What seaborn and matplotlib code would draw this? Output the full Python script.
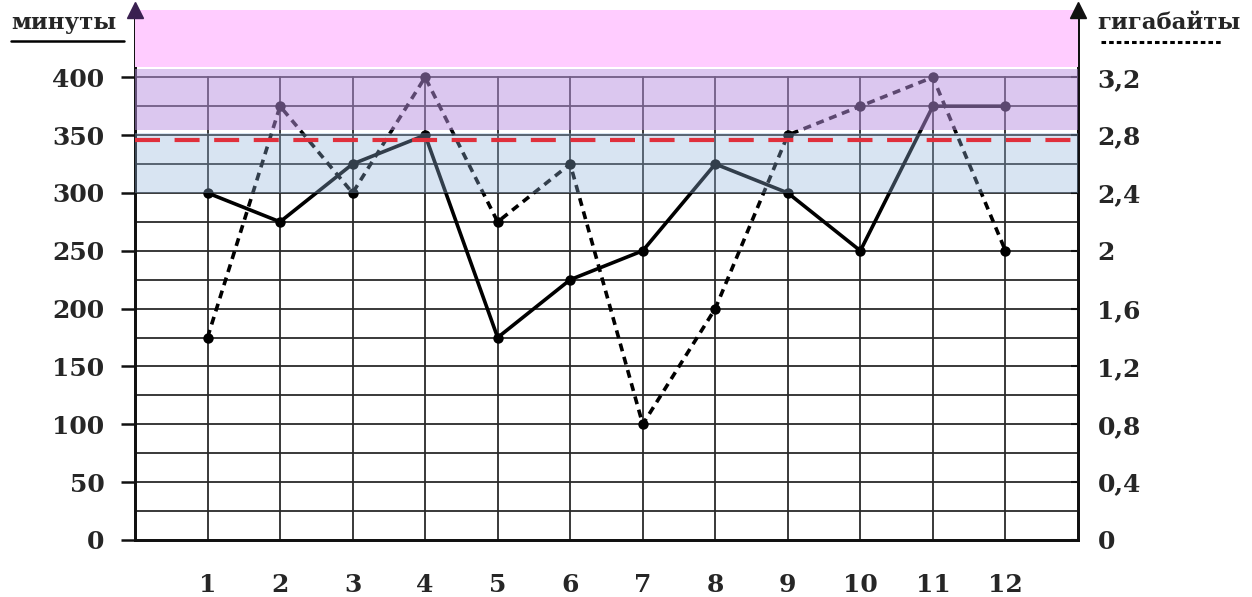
import matplotlib
matplotlib.use("Agg")
import matplotlib.pyplot as plt
import seaborn as sns
import numpy as np
from matplotlib.lines import Line2D

months = list(range(1, 13))
minutes = [300, 275, 325, 350, 175, 225, 250, 325, 300, 250, 375, 375]
gigabytes = [1.4, 3.0, 2.4, 3.2, 2.2, 2.6, 0.8, 1.6, 2.8, 3.0, 3.2, 2.0]
min_ticks = [0, 50, 100, 150, 200, 250, 300, 350, 400]
gb_ticks = [0, 0.4, 0.8, 1.2, 1.6, 2.0, 2.4, 2.8, 3.2]
gb_labels = ["0", "0,4", "0,8", "1,2", "1,6", "2", "2,4", "2,8", "3,2"]
limit_line = 346

sns.set_theme(style="white")
plt.rcParams['font.family'] = ['DejaVu Serif', 'DejaVu Sans']

YTOP = 458
XMAX = 13
K = 0.008
fig = plt.figure(figsize=(12.52, 5.97), dpi=100)
ax = fig.add_axes([0.1078, 0.0955, 0.861 - 0.1078, 0.983 - 0.0955])
ax.set_xlim(0, XMAX)
ax.set_ylim(0, YTOP)
ax2 = ax.twinx()
ax2.set_ylim(0, YTOP * K)

# grid
for yv in range(25, 401, 25):
    ax.plot([0, XMAX], [yv, yv], color="#2a2a2a", lw=1.3, zorder=1)
for xv in months:
    ax.plot([xv, xv], [0, 400], color="#2a2a2a", lw=1.3, zorder=1)

# data lines
sns.lineplot(x=months, y=minutes, ax=ax, color="black", lw=2.6, marker="o",
             markersize=7.5, markeredgewidth=0, zorder=3)
sns.lineplot(x=months, y=gigabytes, ax=ax2, color="black", lw=2.6, marker="o",
             markersize=7.5, markeredgewidth=0, linestyle=(0, (2.2, 1.6)), zorder=3)

# bands (overlay, drawn once on the top axes)
ax2.set_zorder(ax.get_zorder() + 1)
ax2.patch.set_visible(False)
ax2.axhspan(300 * K, 352 * K, color=(144/255, 178/255, 218/255), alpha=0.35, lw=0, zorder=5)
ax2.axhspan(354 * K, 407 * K, color=(185/255, 145/255, 225/255), alpha=0.5, lw=0, zorder=5)
ax2.axhspan(409 * K, YTOP * K, color=(255/255, 204/255, 255/255), alpha=1, lw=0, zorder=5)
ax2.axhline(limit_line * K, color="#E0303C", lw=3, linestyle=(0, (6, 3.5)), zorder=6)

# spines
for a in (ax, ax2):
    a.spines['top'].set_visible(False)
    for s in ('left', 'right', 'bottom'):
        a.spines[s].set_color("#111111")
        a.spines[s].set_linewidth(2)
ax2.plot([0], [1.0], marker="^", color="#3a2050", markersize=11, transform=ax2.transAxes,
         clip_on=False, zorder=10)
ax2.plot([1], [1.0], marker="^", color="#111111", markersize=11, transform=ax2.transAxes,
         clip_on=False, zorder=10)

ax.set_xticks(months)
ax.set_xticklabels([str(m) for m in months])
ax.set_yticks(min_ticks)
ax.set_yticklabels([str(v) for v in min_ticks])
ax2.set_yticks(gb_ticks)
ax2.set_yticklabels(gb_labels)
ax.tick_params(axis='x', direction='out', length=10, width=1.8, color="#111111",
               labelsize=18, pad=14)
ax.tick_params(axis='y', direction='out', length=10, width=1.8, color="#111111",
               labelsize=18, pad=12)
ax2.tick_params(axis='y', direction='in', length=5, width=1.5, color="#111111",
                labelsize=18, pad=14)
for lbl in ax.get_xticklabels() + ax.get_yticklabels() + ax2.get_yticklabels():
    lbl.set_fontweight('bold')
ax.set_xlabel("")
ax.set_ylabel("")
ax2.set_ylabel("")

# axis titles
fig.text(0.009, 0.962, "минуты", fontsize=16.5, fontweight='bold', ha='left', va='center')
fig.add_artist(Line2D([0.009, 0.099], [0.932, 0.932], color="black", lw=1.8))
fig.text(0.876, 0.962, "гигабайты", fontsize=16.5, fontweight='bold', ha='left', va='center')
fig.add_artist(Line2D([0.879, 0.977], [0.929, 0.929], color="black", lw=2.2,
                      linestyle=(0, (1.5, 1.0))))

fig.savefig("out.png", dpi=100)
